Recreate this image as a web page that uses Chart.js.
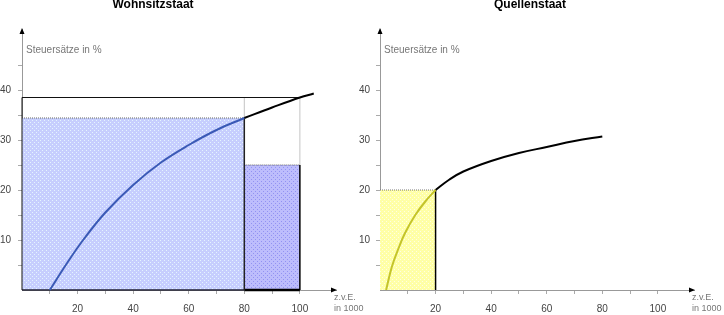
<!DOCTYPE html>
<html>
<head>
<meta charset="utf-8">
<script src="https://cdn.jsdelivr.net/npm/chart.js@4"></script>
<style>
    body { margin: 0; background: #fff; }
    .box { position: absolute; top: 0; height: 315px; }
    #wohn-box { left: 0; width: 370px; }
    #quelle-box { left: 350px; width: 374px; }
</style>
</head>
<body>
<div class="box" id="wohn-box"><canvas id="wohn-chart" width="370" height="315"></canvas></div>
<div class="box" id="quelle-box"><canvas id="quelle-chart" width="374" height="315"></canvas></div>
<script>
// Wohnsitzstaat: tariff curve, blue part up to the domestic income, black beyond
const wohnCurveX = [10, 16, 22, 30, 40, 50, 60, 70, 80];
const wohnCurveY = [0, 5.2, 10, 15.5, 21, 25.5, 29, 32, 34.4];
const wohnUpperX = [80, 90, 100, 105];
const wohnUpperY = [34.4, 36.5, 38.5, 39.3];
// income bounds: 0, domestic income, world income
const wohnBlockX = [0, 80, 100];
// rates: average on domestic income, rate on foreign part, average on world income
const wohnBlockRate = [34.4, 25, 38.5];

// Quellenstaat
const quelleCurveX = [2.2, 4.3, 6.7, 9.1, 12.7, 16.3, 20];
const quelleCurveY = [0, 4.7, 8.4, 11.5, 15, 17.7, 20];
const quelleUpperX = [20, 25, 30, 40, 50, 60, 70, 80];
const quelleUpperY = [20, 22.1, 23.7, 25.8, 27.4, 28.6, 29.8, 30.7];
const quelleBlockX = [0, 20];
const quelleBlockRate = [20];

const xLabels = [20, 40, 60, 80, 100];
const xMinorTicks = [10, 20, 30, 40, 50, 60, 70, 80, 90, 100];
const yLabels = [10, 20, 30, 40];
const yMinorTicks = [5, 10, 15, 20, 25, 30, 35, 40, 45];

const FONT = '"Liberation Sans", Arial, sans-serif';

function zip(xs, ys) {
    return xs.map((x, i) => ({ x: x, y: ys[i] }));
}

function makePattern(base, dot, dots) {
    var c = document.createElement('canvas');
    c.width = 4; c.height = 4;
    var g = c.getContext('2d');
    g.fillStyle = base;
    g.fillRect(0, 0, 4, 4);
    g.fillStyle = dot;
    dots.forEach(p => g.fillRect(p[0], p[1], 1, 1));
    return g.createPattern(c, 'repeat');
}

const bluePattern = makePattern('#c6cefe', '#e4f4ff', [[0, 0], [2, 2]]);
const purplePattern = makePattern('#bdbdfc', '#9292f2', [[1, 1], [3, 3]]);
const yellowPattern = makePattern('#ffffa6', '#ffffe2', [[0, 1], [2, 3]]);

function block(x0, x1, rate, bg) {
    return {
        data: [{ x: x0, y: rate }, { x: x1, y: rate }],
        fill: 'origin',
        backgroundColor: bg,
        borderColor: 'rgba(0,0,0,0)',
        pointRadius: 0,
        order: 5
    };
}

function seg(points, color, dash, width) {
    return {
        data: points,
        fill: false,
        borderColor: color,
        borderDash: dash,
        borderWidth: width,
        pointRadius: 0,
        clip: 6,
        order: dash.length ? 3 : 2
    };
}

function curve(points, color) {
    return {
        data: points,
        fill: false,
        borderColor: color,
        borderWidth: 2,
        pointRadius: 0,
        tension: 0.4,
        clip: 6,
        order: 0
    };
}

// arrows, axis titles, chart title
const decor = {
    id: 'decor',
    afterDraw(chart, args, opts) {
        const ctx = chart.ctx, a = chart.chartArea;
        ctx.save();
        ctx.fillStyle = '#000';
        ctx.font = 'bold 12px ' + FONT;
        ctx.textAlign = 'center';
        ctx.textBaseline = 'alphabetic';
        ctx.fillText(opts.title, opts.titleX, 8);

        ctx.beginPath();
        ctx.moveTo(a.left, a.top - 1);
        ctx.lineTo(a.left - 2.5, a.top + 5);
        ctx.lineTo(a.left + 2.5, a.top + 5);
        ctx.closePath();
        ctx.fill();
        ctx.beginPath();
        ctx.moveTo(a.right + 1, a.bottom);
        ctx.lineTo(a.right - 5, a.bottom - 2.5);
        ctx.lineTo(a.right - 5, a.bottom + 2.5);
        ctx.closePath();
        ctx.fill();

        ctx.fillStyle = '#777';
        ctx.font = '10px ' + FONT;
        ctx.textAlign = 'left';
        ctx.textBaseline = 'middle';
        ctx.fillText('Steuersätze in %', a.left + 4, 50);
        ctx.font = '9px ' + FONT;
        ctx.fillText('z.v.E.', a.right - 2, 298);
        ctx.fillText('in 1000', a.right - 2, 309);
        ctx.restore();
    }
};

function makeChart(id, yWidth, yPad, padRight, title, titleX, datasets) {
    return new Chart(document.getElementById(id), {
        type: 'line',
        data: { datasets: datasets },
        options: {
            responsive: false,
            animation: false,
            layout: { padding: { top: 29, right: padRight, left: 0, bottom: 0 } },
            plugins: {
                legend: { display: false },
                tooltip: { enabled: false },
                decor: { title: title, titleX: titleX }
            },
            scales: {
                x: {
                    type: 'linear',
                    min: 0,
                    max: 113,
                    afterFit: s => { s.height = 25; },
                    afterBuildTicks: s => { s.ticks = xMinorTicks.map(v => ({ value: v })); },
                    border: { display: true, color: '#999', dash: [1, 2] },
                    grid: { drawOnChartArea: false, drawTicks: true, tickLength: 4, color: '#aaa' },
                    ticks: {
                        autoSkip: false,
                        maxRotation: 0,
                        padding: 9,
                        color: '#444',
                        font: { size: 10, family: FONT },
                        callback: v => xLabels.includes(v) ? String(v) : ''
                    }
                },
                y: {
                    type: 'linear',
                    min: 0,
                    max: 52.2,
                    afterFit: s => { s.width = yWidth; },
                    afterBuildTicks: s => { s.ticks = yMinorTicks.map(v => ({ value: v })); },
                    border: { display: true, color: '#999', dash: [1, 2] },
                    grid: { drawOnChartArea: false, drawTicks: true, tickLength: 4, color: '#aaa' },
                    ticks: {
                        autoSkip: false,
                        padding: yPad,
                        color: '#444',
                        font: { size: 10, family: FONT },
                        callback: v => yLabels.includes(v) ? String(v) : ''
                    }
                }
            }
        },
        plugins: [decor]
    });
}

// Wohnsitzstaat
var x0 = wohnBlockX[0], x1 = wohnBlockX[1], x2 = wohnBlockX[2];
var rDom = wohnBlockRate[0], rFor = wohnBlockRate[1], rWorld = wohnBlockRate[2];
var wohnSets = [
    block(x0, x1, rDom, bluePattern),
    block(x1, x2, rFor, purplePattern),
    seg([{ x: x0, y: rDom }, { x: x1, y: rDom }], '#666', [1, 1], 1),
    seg([{ x: x1, y: rFor }, { x: x2, y: rFor }], '#666', [1, 1], 1),
    seg([{ x: x1, y: rWorld }, { x: x1, y: rDom }], '#888', [1, 1], 1),
    seg([{ x: x2, y: rWorld }, { x: x2, y: rFor }], '#888', [1, 1], 1),
    seg([{ x: x0, y: 0 }, { x: x0, y: rWorld }, { x: x2, y: rWorld }], '#111', [], 1),
    seg([{ x: x1, y: 0 }, { x: x1, y: rDom }], '#222', [], 1.5),
    seg([{ x: x2, y: 0 }, { x: x2, y: rFor }], '#000', [], 1.5),
    seg([{ x: x0, y: 0 }, { x: x1, y: 0 }], '#223', [], 1.5),
    seg([{ x: x1, y: 0 }, { x: x2, y: 0 }], '#000', [], 2.5),
    curve(zip(wohnCurveX, wohnCurveY), '#3a5ab6'),
    curve(zip(wohnUpperX, wohnUpperY), '#000')
];
makeChart('wohn-chart', 22, 7, 34, 'Wohnsitzstaat', 153, wohnSets);

// Quellenstaat
var q0 = quelleBlockX[0], q1 = quelleBlockX[1], qRate = quelleBlockRate[0];
var quelleSets = [
    block(q0, q1, qRate, yellowPattern),
    seg([{ x: q0, y: qRate }, { x: q1, y: qRate }], '#777', [1, 1], 1),
    seg([{ x: q1, y: 0 }, { x: q1, y: qRate }], '#000', [], 1.5),
    curve(zip(quelleCurveX, quelleCurveY), '#c4c42a'),
    curve(zip(quelleUpperX, quelleUpperY), '#000')
];
makeChart('quelle-chart', 30, 6, 30, 'Quellenstaat', 180, quelleSets);
</script>
</body>
</html>
